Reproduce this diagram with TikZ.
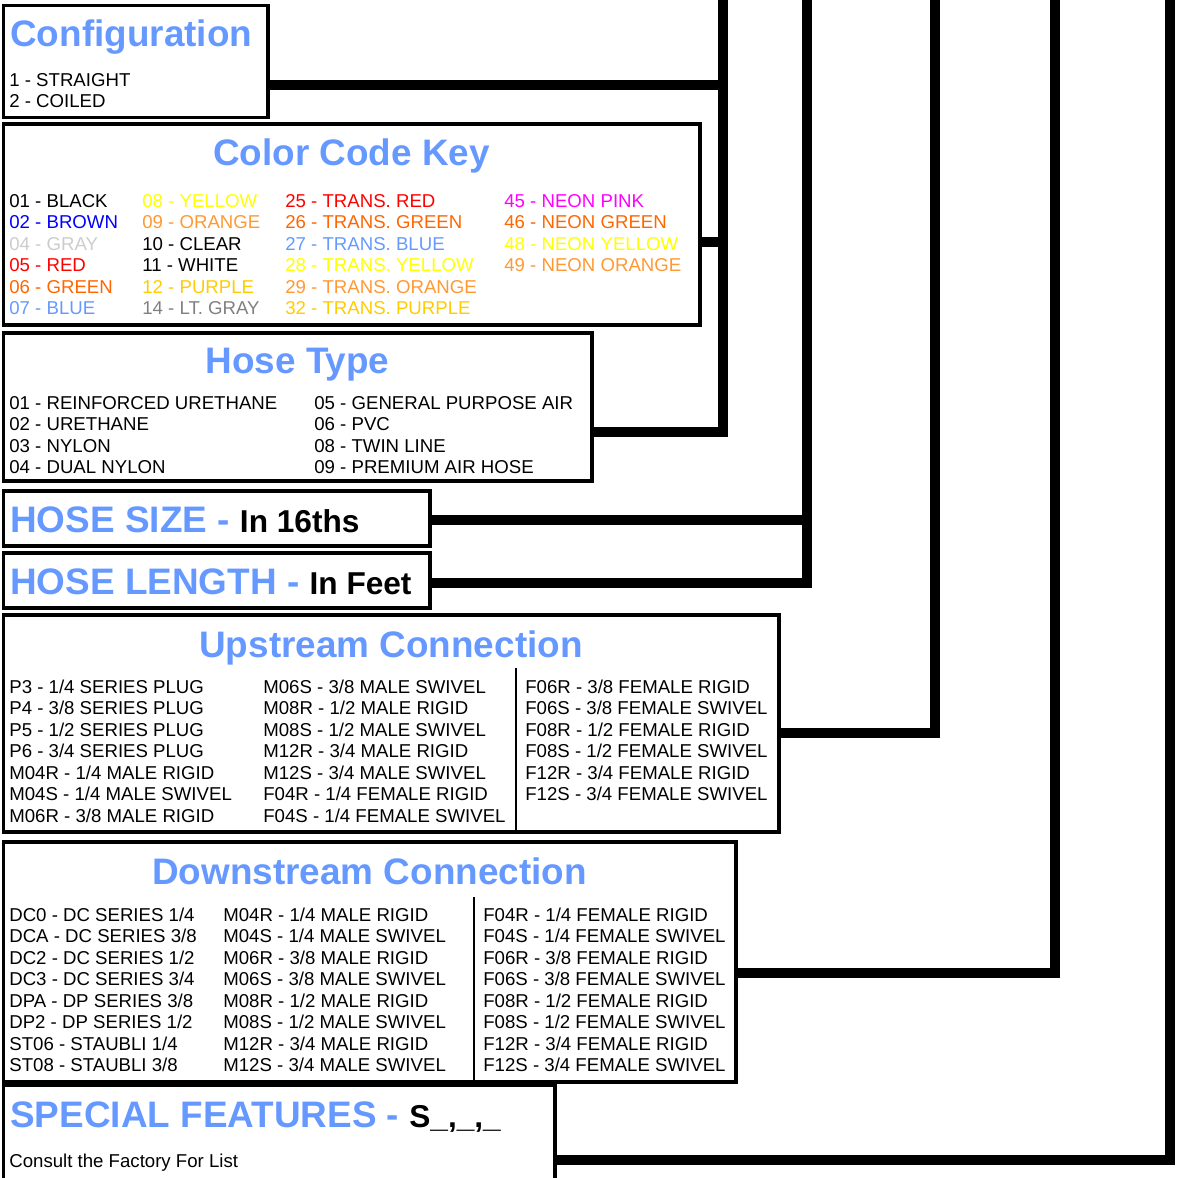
\documentclass[tikz,border=0pt]{standalone}
\usepackage{fontspec}
\setmainfont{Liberation Sans}

\definecolor{keyblue}{RGB}{102,153,255}
\definecolor{keyorange}{RGB}{255,102,0}
\definecolor{keyamber}{RGB}{255,153,51}
\definecolor{keygold}{RGB}{255,204,0}
\definecolor{keyyellow}{RGB}{255,255,0}
\definecolor{keysilver}{RGB}{204,204,204}
\definecolor{keygray}{RGB}{128,128,128}
\definecolor{keypink}{RGB}{255,0,255}
\definecolor{keypureblue}{RGB}{0,0,255}

\begin{document}
\begin{tikzpicture}[x=0.02cm, y=-0.02cm,
		box/.style={draw, line width=2pt},
		divider/.style={line width=1.6pt},
		link/.style={line width=5.7pt},
		heading/.style={inner sep=0pt, text=keyblue, font=\fontsize{21}{24}\selectfont\bfseries},
		entries/.style={inner sep=0pt, anchor=base west, align=left, font=\fontsize{10.6}{12.23}\selectfont}]
			
			\useasboundingbox (0,0) rectangle (1193,1177);
			
			% Configuration (list nodes sit on the baseline of their last line)
			\draw[box] (3.5,5.5) rectangle (268,117.5);
			\node[heading, anchor=base west] (CfgTitle) at (10,46) {Configuration};
			\node[entries] (CfgList) at (9,107.5) {1 - STRAIGHT\\2 - COILED};
			
			% Color code key
			\draw[box] (3.5,124) rectangle (700,325);
			\node[heading, anchor=base] (KeyTitle) at (351.5,165) {Color Code Key};
			\node[entries] (KeyA) at (9,314.5) {01 - BLACK\\\textcolor{keypureblue}{02 - BROWN}\\\textcolor{keysilver}{04 - GRAY}\\\textcolor{red}{05 - RED}\\\textcolor{keyorange}{06 - GREEN}\\\textcolor{keyblue}{07 - BLUE}};
			\node[entries] (KeyB) at (142,314.5) {\textcolor{keyyellow}{08 - YELLOW}\\\textcolor{keyamber}{09 - ORANGE}\\10 - CLEAR\\11 - WHITE\\\textcolor{keygold}{12 - PURPLE}\\\textcolor{keygray}{14 - LT. GRAY}};
			\node[entries] (KeyC) at (285,314.5) {\textcolor{red}{25 - TRANS. RED}\\\textcolor{keyorange}{26 - TRANS. GREEN}\\\textcolor{keyblue}{27 - TRANS. BLUE}\\\textcolor{keyyellow}{28 - TRANS. YELLOW}\\\textcolor{keyamber}{29 - TRANS. ORANGE}\\\textcolor{keygold}{32 - TRANS. PURPLE}};
			\node[entries] (KeyD) at (504,271.5) {\textcolor{keypink}{45 - NEON PINK}\\\textcolor{keyorange}{46 - NEON GREEN}\\\textcolor{keyyellow}{48 - NEON YELLOW}\\\textcolor{keyamber}{49 - NEON ORANGE}};
			
			% Hose type
			\draw[box] (3.5,333) rectangle (592,481);
			\node[heading, anchor=base] (TypeTitle) at (297.5,373) {Hose Type};
			\node[entries] (TypeA) at (9,473.5) {01 - REINFORCED URETHANE\\02 - URETHANE\\03 - NYLON\\04 - DUAL NYLON};
			\node[entries] (TypeB) at (314,473.5) {05 - GENERAL PURPOSE AIR\\06 - PVC\\08 - TWIN LINE\\09 - PREMIUM AIR HOSE};
			
			% Hose size and length
			\draw[box] (3.5,491) rectangle (430,546);
			\node[heading, anchor=base west] (SizeTitle) at (10,532) {HOSE SIZE - \textcolor{black}{\fontsize{18}{20}\selectfont In 16ths}};
			\draw[box] (3.5,553) rectangle (430,608);
			\node[heading, anchor=base west] (LengthTitle) at (10,594) {HOSE LENGTH - \textcolor{black}{\fontsize{18}{20}\selectfont In Feet}};
			
			% Upstream connection
			\draw[box] (3.5,615) rectangle (779,832);
			\draw[divider] (516,668) -- (516,832);
			\node[heading, anchor=base] (UpTitle) at (391,657) {Upstream Connection};
			\node[entries] (UpA) at (9,822) {P3 - 1/4 SERIES PLUG\\P4 - 3/8 SERIES PLUG\\P5 - 1/2 SERIES PLUG\\P6 - 3/4 SERIES PLUG\\M04R - 1/4 MALE RIGID\\M04S - 1/4 MALE SWIVEL\\M06R - 3/8 MALE RIGID};
			\node[entries] (UpB) at (263,822) {M06S - 3/8 MALE SWIVEL\\M08R - 1/2 MALE RIGID\\M08S - 1/2 MALE SWIVEL\\M12R - 3/4 MALE RIGID\\M12S - 3/4 MALE SWIVEL\\F04R - 1/4 FEMALE RIGID\\F04S - 1/4 FEMALE SWIVEL};
			\node[entries] (UpC) at (525,800.5) {F06R - 3/8 FEMALE RIGID\\F06S - 3/8 FEMALE SWIVEL\\F08R - 1/2 FEMALE RIGID\\F08S - 1/2 FEMALE SWIVEL\\F12R - 3/4 FEMALE RIGID\\F12S - 3/4 FEMALE SWIVEL};
			
			% Downstream connection
			\draw[box] (3.5,842) rectangle (736,1082);
			\draw[divider] (474,897) -- (474,1082);
			\node[heading, anchor=base] (DownTitle) at (369.5,884) {Downstream Connection};
			\node[entries] (DownA) at (9,1071.5) {DC0 - DC SERIES 1/4\\DCA - DC SERIES 3/8\\DC2 - DC SERIES 1/2\\DC3 - DC SERIES 3/4\\DPA - DP SERIES 3/8\\DP2 - DP SERIES 1/2\\ST06 - STAUBLI 1/4\\ST08 - STAUBLI 3/8};
			\node[entries] (DownB) at (223,1071.5) {M04R - 1/4 MALE RIGID\\M04S - 1/4 MALE SWIVEL\\M06R - 3/8 MALE RIGID\\M06S - 3/8 MALE SWIVEL\\M08R - 1/2 MALE RIGID\\M08S - 1/2 MALE SWIVEL\\M12R - 3/4 MALE RIGID\\M12S - 3/4 MALE SWIVEL};
			\node[entries] (DownC) at (483,1071.5) {F04R - 1/4 FEMALE RIGID\\F04S - 1/4 FEMALE SWIVEL\\F06R - 3/8 FEMALE RIGID\\F06S - 3/8 FEMALE SWIVEL\\F08R - 1/2 FEMALE RIGID\\F08S - 1/2 FEMALE SWIVEL\\F12R - 3/4 FEMALE RIGID\\F12S - 3/4 FEMALE SWIVEL};
			
			% Special features (runs off the bottom)
			\draw[box] (3.5,1185) |- (555,1085) -- (555,1185);
			\node[heading, anchor=base west] (SpecTitle) at (10,1127) {SPECIAL FEATURES - \textcolor{black}{\fontsize{18}{20}\selectfont S\_,\_,\_}};
			\node[entries] (SpecNote) at (9,1167) {Consult the Factory For List};
			
			% Bus lines leaving the top
			\coordinate (BusA) at (723,0);
			\coordinate (BusB) at (807,0);
			\coordinate (BusC) at (935,0);
			\coordinate (BusD) at (1055,0);
			\coordinate (BusE) at (1170,0);
			
			% Box outlets
			\coordinate (CfgOut) at (268,85);
			\coordinate (KeyOut) at (700,242);
			\coordinate (TypeOut) at (592,432);
			\coordinate (SizeOut) at (430,520);
			\coordinate (LengthOut) at (430,583);
			\coordinate (UpOut) at (779,733);
			\coordinate (DownOut) at (736,973);
			\coordinate (SpecOut) at (555,1160);
			
			% Connectors
			\draw[link] (CfgOut) -- (CfgOut -| BusA);
			\draw[link] (KeyOut) -- (KeyOut -| BusA);
			\draw[link] (TypeOut) -| (BusA);
			\draw[link] (SizeOut) -- (SizeOut -| BusB);
			\draw[link] (LengthOut) -| (BusB);
			\draw[link] (UpOut) -| (BusC);
			\draw[link] (DownOut) -| (BusD);
			\draw[link] (SpecOut) -| (BusE);
			
		\end{tikzpicture}
\end{document}
